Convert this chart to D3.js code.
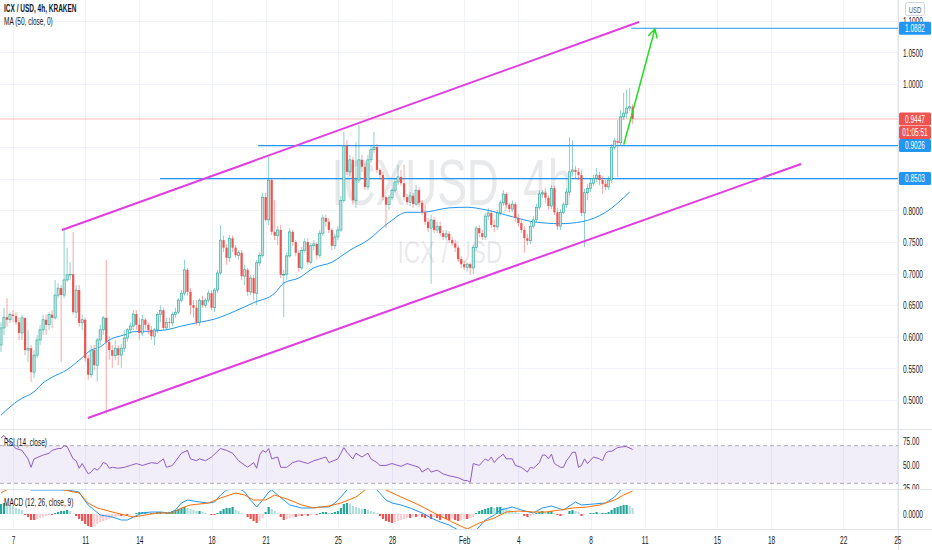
<!DOCTYPE html>
<html><head><meta charset="utf-8">
<script src="https://cdn.jsdelivr.net/npm/d3@7"></script>
<style>html,body{margin:0;padding:0;background:#fff}svg{display:block}</style>
</head><body>
<svg id="c" width="932" height="550"></svg>
<script>
// ---------------- DATA ----------------
const symbolTitle = "ICX / USD, 4h, KRAKEN";
const maTitle = "MA (50, close, 0)";
const rsiTitle = "RSI (14, close)";
const macdTitle = "MACD (12, 26, close, 9)";
const watermark = "ICXUSD, 4h";
const watermarkSub = "ICX / USD";
// 4h candles, first candle = Jan 6 08:00, index step = 4h
const firstOpen = 0.587;
const closes = [
0.614,0.631,0.627,0.635,0.633,0.623,0.606,0.630,0.579,0.582,
0.544,0.571,0.595,0.611,0.627,0.619,0.635,0.630,0.666,0.677,
0.666,0.690,0.698,0.699,0.639,0.674,0.622,0.627,0.566,0.540,
0.579,0.555,0.595,0.611,0.630,0.592,0.579,0.570,0.582,0.571,
0.582,0.598,0.611,0.617,0.636,0.619,0.606,0.627,0.619,0.611,
0.601,0.611,0.635,0.642,0.614,0.623,0.622,0.635,0.639,0.658,
0.669,0.706,0.671,0.650,0.646,0.623,0.658,0.650,0.658,0.669,
0.646,0.674,0.701,0.753,0.741,0.725,0.756,0.741,0.729,0.733,
0.696,0.706,0.671,0.693,0.669,0.717,0.729,0.821,0.785,0.848,
0.766,0.760,0.769,0.698,0.699,0.728,0.766,0.750,0.733,0.709,
0.737,0.750,0.718,0.744,0.747,0.729,0.764,0.788,0.782,0.769,
0.744,0.758,0.769,0.816,0.902,0.861,0.880,0.816,0.848,0.880,
0.869,0.837,0.880,0.896,0.900,0.864,0.856,0.821,0.809,0.820,
0.832,0.845,0.853,0.843,0.821,0.813,0.823,0.810,0.832,0.812,
0.797,0.782,0.772,0.785,0.769,0.775,0.764,0.758,0.763,0.753,
0.748,0.741,0.723,0.715,0.710,0.715,0.709,0.741,0.772,0.764,
0.758,0.791,0.796,0.777,0.774,0.796,0.812,0.826,0.809,0.802,
0.810,0.788,0.780,0.769,0.756,0.752,0.775,0.785,0.805,0.826,
0.828,0.820,0.807,0.835,0.797,0.775,0.797,0.809,0.829,0.861,
0.864,0.861,0.856,0.796,0.828,0.835,0.843,0.851,0.856,0.848,
0.842,0.837,0.848,0.900,0.910,0.907,0.948,0.954,0.962,0.964,
0.945];
const highs = [
0.623,0.646,0.661,0.639,0.642,0.639,0.630,0.635,0.630,0.611,
0.587,0.579,0.603,0.619,0.635,0.635,0.639,0.642,0.690,0.685,
0.682,0.772,0.741,0.718,0.766,0.682,0.682,0.635,0.630,0.571,
0.587,0.587,0.598,0.619,0.633,0.722,0.601,0.587,0.595,0.587,
0.589,0.611,0.614,0.623,0.642,0.642,0.630,0.635,0.630,0.623,
0.617,0.614,0.639,0.650,0.646,0.630,0.630,0.639,0.646,0.661,
0.674,0.722,0.709,0.677,0.658,0.658,0.661,0.665,0.661,0.674,
0.674,0.677,0.706,0.777,0.760,0.747,0.761,0.760,0.745,0.737,
0.737,0.714,0.709,0.698,0.698,0.722,0.734,0.828,0.828,0.885,
0.851,0.816,0.775,0.777,0.706,0.734,0.772,0.769,0.753,0.737,
0.742,0.756,0.756,0.748,0.753,0.750,0.769,0.793,0.793,0.788,
0.772,0.763,0.775,0.823,0.924,0.911,0.888,0.885,0.908,0.935,
0.888,0.875,0.888,0.903,0.924,0.905,0.867,0.861,0.824,0.824,
0.835,0.851,0.872,0.864,0.872,0.826,0.829,0.828,0.840,0.837,
0.816,0.809,0.788,0.793,0.790,0.782,0.782,0.769,0.769,0.767,
0.758,0.753,0.744,0.728,0.720,0.718,0.718,0.745,0.775,0.777,
0.769,0.796,0.804,0.801,0.785,0.801,0.816,0.832,0.829,0.812,
0.816,0.813,0.794,0.785,0.775,0.763,0.782,0.791,0.810,0.832,
0.832,0.835,0.824,0.840,0.839,0.804,0.802,0.813,0.835,0.916,
0.911,0.870,0.867,0.864,0.834,0.842,0.851,0.856,0.867,0.861,
0.854,0.848,0.854,0.905,0.915,0.943,0.959,0.986,0.991,0.994,
0.968];
const lows = [
0.576,0.603,0.616,0.622,0.623,0.619,0.595,0.595,0.571,0.560,
0.529,0.535,0.566,0.587,0.603,0.603,0.611,0.614,0.627,0.661,
0.560,0.661,0.687,0.690,0.635,0.630,0.616,0.611,0.560,0.532,
0.535,0.547,0.529,0.587,0.603,0.479,0.563,0.551,0.563,0.555,
0.551,0.576,0.592,0.604,0.611,0.611,0.595,0.601,0.611,0.604,
0.595,0.587,0.606,0.623,0.611,0.611,0.614,0.617,0.630,0.636,
0.654,0.665,0.665,0.635,0.630,0.619,0.617,0.646,0.646,0.654,
0.642,0.639,0.669,0.698,0.734,0.714,0.718,0.734,0.725,0.722,
0.690,0.682,0.665,0.666,0.658,0.650,0.712,0.725,0.782,0.777,
0.761,0.753,0.745,0.693,0.631,0.690,0.725,0.744,0.728,0.703,
0.706,0.733,0.714,0.715,0.737,0.722,0.725,0.760,0.775,0.764,
0.737,0.739,0.753,0.766,0.812,0.856,0.854,0.809,0.804,0.843,
0.861,0.832,0.832,0.875,0.891,0.859,0.848,0.816,0.772,0.801,
0.816,0.829,0.840,0.839,0.816,0.809,0.807,0.804,0.807,0.805,
0.793,0.777,0.766,0.684,0.764,0.764,0.760,0.753,0.753,0.748,
0.744,0.734,0.718,0.709,0.706,0.703,0.698,0.699,0.737,0.758,
0.753,0.753,0.785,0.772,0.766,0.769,0.791,0.807,0.804,0.797,
0.797,0.782,0.775,0.764,0.733,0.745,0.747,0.771,0.782,0.801,
0.820,0.812,0.801,0.802,0.793,0.769,0.769,0.794,0.804,0.824,
0.854,0.851,0.848,0.791,0.742,0.816,0.829,0.839,0.845,0.840,
0.826,0.832,0.832,0.843,0.896,0.853,0.902,0.943,0.946,0.957,
0.937];
// MA(50) read at candle indices
const maPoints = [[0,0.476],[6,0.500],[11,0.513],[14,0.527],[17,0.536],[22,0.548],[26,0.563],[30,0.579],[33,0.584],[36,0.595],[41,0.603],[44,0.608],[50,0.609],[55,0.611],[60,0.617],[66,0.623],[71,0.628],[78,0.641],[84,0.654],[91,0.669],[94,0.685],[99,0.693],[104,0.709],[110,0.718],[116,0.737],[122,0.753],[129,0.781],[135,0.797],[140,0.797],[149,0.804],[155,0.805],[161,0.801],[170,0.790],[177,0.782],[186,0.779],[193,0.782],[201,0.797],[209,0.829]];
// RSI(14) read at candle indices
const rsiPoints = [[0,78],[1,81],[2,76],[5,67],[7,65],[9,56],[10,47],[11,56],[14,60],[16,62],[17,65],[19,67],[20,67],[21,70],[22,69],[24,56],[25,54],[26,46],[27,51],[29,40],[30,42],[31,46],[32,44],[33,47],[34,52],[35,51],[36,46],[37,47],[39,46],[41,47],[43,49],[45,51],[47,49],[50,52],[52,51],[54,56],[55,47],[57,49],[60,62],[62,65],[63,56],[65,54],[66,56],[68,54],[70,58],[73,67],[75,65],[77,62],[79,54],[82,47],[84,52],[85,46],[86,60],[87,65],[88,63],[89,67],[90,56],[92,58],[93,47],[95,47],[97,52],[99,54],[102,51],[104,54],[106,56],[108,58],[109,52],[112,56],[113,62],[114,68],[115,63],[117,56],[118,62],[120,58],[122,62],[123,56],[125,52],[126,49],[128,49],[130,51],[133,48],[135,51],[137,49],[139,47],[140,42],[142,46],[143,42],[145,44],[147,40],[149,38],[152,36],[154,33],[155,33],[156,31],[157,51],[159,49],[161,56],[162,54],[163,58],[164,52],[165,56],[167,61],[168,56],[170,56],[171,49],[173,47],[175,42],[176,47],[177,46],[179,52],[180,60],[181,60],[182,56],[183,61],[184,51],[185,49],[186,47],[187,47],[188,54],[189,58],[190,63],[191,63],[192,47],[193,49],[194,56],[195,51],[197,58],[199,56],[200,54],[201,62],[202,64],[203,64],[205,68],[207,69],[208,69],[210,66]];
// MACD values in thousandths
const macdPoints = [[0,31],[3,34],[7,31],[10,24],[20,24],[22,24],[26,22],[27,17],[29,9],[31,4],[33,-1],[37,-3],[40,-6],[42,-6],[44,-3],[47,1],[50,2],[53,2],[56,1],[58,4],[60,11],[62,14],[66,12],[69,11],[71,12],[73,19],[75,24],[79,26],[81,22],[83,14],[85,7],[87,14],[89,22],[90,24],[92,19],[94,14],[96,9],[100,6],[103,6],[106,7],[109,7],[111,11],[113,17],[115,24],[117,29],[120,31],[123,32],[125,24],[128,14],[130,11],[133,9],[136,6],[140,1],[143,-4],[146,-8],[149,-11],[152,-16],[155,-20],[158,-16],[161,-6],[164,-1],[166,4],[170,7],[173,4],[177,1],[180,6],[183,8],[187,4],[191,12],[193,9],[197,10],[201,11],[204,17],[206,24],[208,29],[210,32]];
const signalPoints = [[0,21],[3,26],[7,28],[10,30],[14,29],[18,26],[21,24],[26,21],[29,11],[32,6],[37,2],[41,-1],[44,-3],[48,-1],[52,1],[57,1],[60,6],[63,9],[69,11],[73,16],[78,21],[81,19],[84,14],[88,14],[91,19],[96,14],[100,9],[104,6],[109,8],[113,11],[118,17],[121,24],[124,28],[128,24],[133,17],[139,9],[144,1],[150,-8],[155,-15],[159,-9],[164,-4],[168,2],[172,3],[177,2],[181,2],[186,4],[190,6],[195,7],[199,9],[204,14],[207,19],[210,23]];
const macdHist = [
10,11,10,9,8,6,5,4,-1,-3,
-6,-6,-5,-4,-3,-2,-1,-1,1,2,
3,3,4,3,0,-2,-5,-7,-10,-12,
-13,-12,-10,-8,-7,-6,-5,-4,-3,-2,
-2,-1,-1,0,0,1,2,2,2,1,
1,1,2,2,1,1,2,3,4,5,
6,7,6,5,4,3,3,2,1,0,
-1,-1,1,3,5,6,6,7,4,3,
1,0,-3,-5,-7,-9,-7,-4,2,7,
5,3,1,-3,-6,-5,-4,-3,-3,-2,
-2,-1,-2,-1,0,-1,1,2,2,1,
1,2,3,6,10,11,10,8,7,6,
5,5,4,3,2,1,-2,-5,-7,-8,
-9,-8,-7,-6,-5,-4,-4,-3,-3,-2,
-3,-4,-3,-5,-3,-4,-6,-4,-5,-6,
-5,-6,-7,-6,-5,-5,-4,-3,1,3,
4,5,6,7,6,7,7,6,5,4,
3,2,1,0,-2,-3,-2,-1,1,2,
3,2,2,3,1,-1,-2,-1,0,3,
4,3,2,-2,-1,0,1,1,2,1,
1,1,2,4,6,7,8,9,9,8,
6];
const priceTicks = [0.50,0.55,0.60,0.65,0.70,0.75,0.80,0.85,0.90,0.95,1.00,1.05,1.10];
const rsiTicks = [75,50,25];
const macdTicks = [0];
const dayTickLabels = ["7","11","14","18","21","25","28","Feb","4","8","11","15","18","22","25"];
const dayTickJanDay = [7,11,14,18,21,25,28,32,35,39,42,46,49,53,56];
// drawings (candle index, price)
const channelUpper = [[20.3,0.769],[212.1,1.098]];
const channelLower = [[28.9,0.4715],[266.0,0.8734]];
const levels = [{price:1.0882, from:209.5},{price:0.9026, from:85.5},{price:0.8503, from:52.9}];
const arrowPts = [[207.1,0.905],[217.4,1.087]];
const lastPrice = 0.9447;
const countdown = "01:05:51";
const currency = "USD";

// ---------------- LAYOUT ----------------
const svg = d3.select("#c");
const FONT = "'Liberation Sans', Arial, Helvetica, sans-serif";
const SX = 0.62;
const PR = 898; // right edge of plot
const MAIN = {t:0,b:429}, RSI={t:430,b:489}, MACD={t:490,b:529};

const x = d3.scaleLinear().domain([0,210]).range([0.97,632.65]);
const y = d3.scaleLinear().domain([0.5,1.0]).range([400,84]);
const yr = d3.scaleLinear().domain([25,75]).range([488,441]);
const ym = d3.scaleLinear().domain([-15,25]).range([529,489]);
const dayIdx = dayTickJanDay.map(d => 4 + (d-7)*6);

const defs = svg.append("defs");
function clip(id,x0,y0,w,h){defs.append("clipPath").attr("id",id).append("rect").attr("x",x0).attr("y",y0).attr("width",w).attr("height",h);return `url(#${id})`;}
const cMain = clip("cm",0,MAIN.t,PR,MAIN.b-MAIN.t);
const cRsi = clip("cr",0,RSI.t,PR,RSI.b-RSI.t);
const cMacd = clip("cd",0,MACD.t,PR,MACD.b-MACD.t);
const cPriceAx = clip("cpa",PR,16,40,MAIN.b-16);
const cRsiAx = clip("cra",PR,RSI.t,40,RSI.b-RSI.t);
const cMacdAx = clip("cda",PR,MACD.t,40,MACD.b-MACD.t);

function label(g,x0,y0,s,o={}){
  return g.append("text").attr("transform",`translate(${x0},${y0}) scale(${o.sx||SX},1)`)
    .attr("font-family",FONT).attr("font-size",o.size||10.5).attr("font-weight",o.weight||400)
    .attr("fill",o.fill||"#131722").attr("text-anchor",o.anchor||"start").text(s);
}

// grid
const grid = svg.append("g");
grid.selectAll(".hg").data(priceTicks).enter().append("line")
  .attr("x1",0).attr("x2",PR).attr("y1",d=>Math.round(y(d))+0.5).attr("y2",d=>Math.round(y(d))+0.5)
  .attr("stroke","#f0f3fa").attr("clip-path",cMain);
grid.selectAll(".vg").data(dayIdx).enter().append("line")
  .attr("x1",d=>Math.round(x(d))+0.5).attr("x2",d=>Math.round(x(d))+0.5).attr("y1",0).attr("y2",MACD.b)
  .attr("stroke","#f0f3fa");

// watermarks
svg.append("text").attr("x",452).attr("y",205).attr("text-anchor","middle")
  .attr("font-family",FONT).attr("font-size",64).attr("textLength",241).attr("lengthAdjust","spacingAndGlyphs")
  .attr("fill","rgba(120,123,134,0.17)").text(watermark);
svg.append("text").attr("x",450).attr("y",263).attr("text-anchor","middle")
  .attr("font-family",FONT).attr("font-size",31).attr("textLength",105).attr("lengthAdjust","spacingAndGlyphs")
  .attr("fill","rgba(120,123,134,0.17)").text(watermarkSub);

const main = svg.append("g").attr("clip-path",cMain);

// last price line
main.append("line").attr("x1",0).attr("x2",PR).attr("y1",y(lastPrice)).attr("y2",y(lastPrice))
  .attr("stroke","#ef5350").attr("stroke-opacity",0.4).attr("stroke-width",1);

// horizontal levels
main.selectAll(".lvl").data(levels).enter().append("line")
  .attr("x1",d=>x(d.from)).attr("x2",PR).attr("y1",d=>y(d.price)).attr("y2",d=>y(d.price))
  .attr("stroke","#2196f3").attr("stroke-width",1.2);

// MA
main.append("path").datum(maPoints)
  .attr("d",d3.line().x(d=>x(d[0])).y(d=>y(d[1])).curve(d3.curveMonotoneX))
  .attr("fill","none").attr("stroke","#2196f3").attr("stroke-width",1);

// candles
const candles = closes.map((c,i)=>({i,o:i===0?firstOpen:closes[i-1],h:highs[i],l:lows[i],c}));
const cg = main.append("g");
cg.selectAll(".w").data(candles).enter().append("line")
  .attr("x1",d=>x(d.i)).attr("x2",d=>x(d.i)).attr("y1",d=>y(d.h)).attr("y2",d=>y(d.l))
  .attr("stroke",d=>d.c>=d.o?"#26a69a":"#ef5350").attr("stroke-opacity",0.65).attr("stroke-width",0.8);
cg.selectAll(".b").data(candles).enter().append("rect")
  .attr("x",d=>x(d.i)-1.1).attr("width",2.2)
  .attr("y",d=>y(Math.max(d.o,d.c))).attr("height",d=>Math.max(0.8,Math.abs(y(d.o)-y(d.c))))
  .attr("fill",d=>d.c>=d.o?"#bfe5e1":"#ef5350")
  .attr("stroke",d=>d.c>=d.o?"#26a69a":"none").attr("stroke-width",0.6);

// channel
[channelUpper,channelLower].forEach(seg=>{
  main.append("line").attr("x1",x(seg[0][0])).attr("y1",y(seg[0][1])).attr("x2",x(seg[1][0])).attr("y2",y(seg[1][1]))
    .attr("stroke","#e03ee0").attr("stroke-width",2);
});

// arrow
const a0=[x(arrowPts[0][0]),y(arrowPts[0][1])], a1=[x(arrowPts[1][0]),y(arrowPts[1][1])];
const ang=Math.atan2(a1[1]-a0[1],a1[0]-a0[0]);
const ah=9;
main.append("path").attr("d",`M${a0[0]},${a0[1]}L${a1[0]},${a1[1]}M${a1[0]-ah*Math.cos(ang-0.5)},${a1[1]-ah*Math.sin(ang-0.5)}L${a1[0]},${a1[1]}L${a1[0]-ah*Math.cos(ang+0.5)},${a1[1]-ah*Math.sin(ang+0.5)}`)
  .attr("fill","none").attr("stroke","#22dd22").attr("stroke-width",1.5).attr("stroke-linecap","round");

// ---------------- RSI ----------------
const rsiG = svg.append("g").attr("clip-path",cRsi);
rsiG.append("rect").attr("x",0).attr("width",PR).attr("y",yr(70)).attr("height",yr(30)-yr(70)).attr("fill","rgba(126,87,194,0.1)");
[70,30].forEach(v=>rsiG.append("line").attr("x1",0).attr("x2",PR).attr("y1",yr(v)).attr("y2",yr(v))
  .attr("stroke","#9598a1").attr("stroke-width",0.8).attr("stroke-dasharray","4,3"));
rsiG.append("path").datum(rsiPoints).attr("d",d3.line().x(d=>x(d[0])).y(d=>yr(d[1])))
  .attr("fill","none").attr("stroke","#8e5cc4").attr("stroke-width",1);

// ---------------- MACD ----------------
const mG = svg.append("g").attr("clip-path",cMacd);
mG.selectAll(".h").data(macdHist).enter().append("rect")
  .attr("x",(d,i)=>x(i)-1.1).attr("width",2.2)
  .attr("y",d=>ym(Math.max(0,d))).attr("height",d=>Math.abs(ym(d)-ym(0)))
  .attr("fill",(d,i)=>{const p=i>0?macdHist[i-1]:d; if(d>=0) return d>=p?"#26a69a":"#b2dfdb"; return d<=p?"#ef5350":"#ffcdd2";});
mG.append("path").datum(macdPoints).attr("d",d3.line().x(d=>x(d[0])).y(d=>ym(d[1])))
  .attr("fill","none").attr("stroke","#2196f3").attr("stroke-width",1);
mG.append("path").datum(signalPoints).attr("d",d3.line().x(d=>x(d[0])).y(d=>ym(d[1])))
  .attr("fill","none").attr("stroke","#ff6d00").attr("stroke-width",1);

// separators
[MAIN.b+0.5, RSI.b+0.5, MACD.b+0.5].forEach(v=>svg.append("line").attr("x1",0).attr("x2",932).attr("y1",v).attr("y2",v).attr("stroke","#e0e3eb"));
svg.append("line").attr("x1",PR+0.5).attr("x2",PR+0.5).attr("y1",0).attr("y2",550).attr("stroke","#e0e3eb");

// ---------------- AXES ----------------
function styleAxis(g, tx, ty, anchor){
  g.select(".domain").remove();
  g.selectAll(".tick line").remove();
  g.selectAll(".tick text").attr("x",0).attr("y",0).attr("dy",null)
    .attr("transform",`translate(${tx},${ty}) scale(${SX},1)`).attr("text-anchor",anchor)
    .attr("font-family",FONT).attr("font-size",10.5).attr("fill","#131722");
}
// tag positions on the price axis (ticks hidden underneath are not drawn)
const tagYs = [y(levels[0].price), y(lastPrice), y(lastPrice)+13.5, y(levels[1].price), y(levels[2].price)];
const visibleTicks = priceTicks.filter(p => tagYs.every(t => Math.abs(y(p)-t) > 6.6));
const pAx = svg.append("g").attr("clip-path",cPriceAx).append("g").attr("transform",`translate(${PR},0)`)
  .call(d3.axisRight(y).tickValues(visibleTicks).tickFormat(d3.format(".4f")).tickSize(0));
styleAxis(pAx,5,3.7,"start");
const rAx = svg.append("g").attr("clip-path",cRsiAx).append("g").attr("transform",`translate(${PR},0)`)
  .call(d3.axisRight(yr).tickValues(rsiTicks).tickFormat(d3.format(".2f")).tickSize(0));
styleAxis(rAx,5,3.7,"start");
const mAx = svg.append("g").attr("clip-path",cMacdAx).append("g").attr("transform",`translate(${PR},0)`)
  .call(d3.axisRight(ym).tickValues(macdTicks).tickFormat(d3.format(".4f")).tickSize(0));
styleAxis(mAx,5,3.7,"start");
const tAx = svg.append("g").attr("transform",`translate(0,${MACD.b})`)
  .call(d3.axisBottom(x).tickValues(dayIdx).tickFormat((d,i)=>dayTickLabels[i]).tickSize(0));
styleAxis(tAx,0,14.5,"middle");

// currency box
svg.append("rect").attr("x",905.5).attr("y",2.5).attr("width",19).attr("height",13).attr("rx",2).attr("fill","#fff").attr("stroke","#d1d4dc");
label(svg,915,12.5,currency,{size:9.5,anchor:"middle",fill:"#555"});

// price tags
function tag(yc,text,bg){
  svg.append("rect").attr("x",899).attr("y",yc-6.5).attr("width",32).attr("height",13).attr("rx",1.5).attr("fill",bg);
  label(svg,915,yc+3.7,text,{fill:"#fff",anchor:"middle"});
}
tag(tagYs[0], d3.format(".4f")(levels[0].price), "#2196f3");
tag(tagYs[1], d3.format(".4f")(lastPrice), "#ef5350");
tag(tagYs[2], countdown, "#ef5350");
tag(tagYs[3], d3.format(".4f")(levels[1].price), "#2196f3");
tag(tagYs[4], d3.format(".4f")(levels[2].price), "#2196f3");

// legends
label(svg,4,12,symbolTitle,{weight:600});
label(svg,4,25,maTitle);
label(svg,4,446,rsiTitle);
label(svg,4,506,macdTitle);
</script>
</body></html>
